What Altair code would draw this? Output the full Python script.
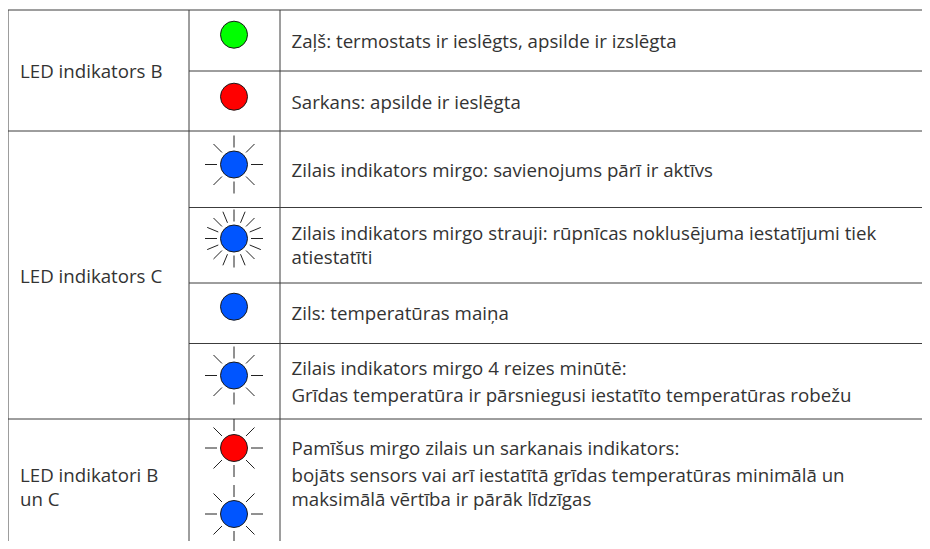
import math
import altair as alt
import pandas as pd

# table geometry (image pixels)
h_y = [10, 71, 131, 207.5, 283, 343.5, 419]
h_x1 = [8, 189, 8, 189, 189, 189, 8]
v_x = [8, 189, 280]
v_y1 = [10, 10, 10]
X_END = 922
Y_END = 541

# left column
group_labels = ["LED indikators B", "LED indikators C", "LED indikatori B", "un C"]
group_base = [78, 283, 482, 506]

# right column
desc_lines = [
    "Zaļš: termostats ir ieslēgts, apsilde ir izslēgta",
    "Sarkans: apsilde ir ieslēgta",
    "Zilais indikators mirgo: savienojums pārī ir aktīvs",
    "Zilais indikators mirgo strauji: rūpnīcas noklusējuma iestatījumi tiek",
    "atiestatīti",
    "Zils: temperatūras maiņa",
    "Zilais indikators mirgo 4 reizes minūtē:",
    "Grīdas temperatūra ir pārsniegusi iestatīto temperatūras robežu",
    "Pamīšus mirgo zilais un sarkanais indikators:",
    "bojāts sensors vai arī iestatītā grīdas temperatūras minimālā un",
    "maksimālā vērtība ir pārāk līdzīgas",
]
desc_base = [48, 109, 177, 240, 264, 320, 375, 402, 455, 482, 506]

# LEDs
led_y = [34.7, 96.7, 164.5, 238.5, 306.7, 375.5, 448, 514]
led_color = ["#00ff00", "#ff0000", "#0055ff", "#0055ff", "#0055ff", "#0055ff", "#ff0000", "#0055ff"]
led_rays = [0, 0, 8, 16, 0, 8, 8, 8]
LED_X = 234
RAY_IN = 17
RAY_OUT = 29

x_scale = alt.Scale(domain=[8, X_END], range=[0, X_END - 8], nice=False, zero=False)
y_scale = alt.Scale(domain=[8, Y_END], range=[0, Y_END - 8], nice=False, zero=False)
X = alt.X("x:Q", scale=x_scale, axis=None)
Y = alt.Y("y:Q", scale=y_scale, axis=None)

LINE = "#3c3c3c"
FONT = "Open Sans"
TEXT = "#333333"
FS = 18.7

h_df = pd.DataFrame({"x": h_x1, "x2": [X_END] * len(h_y), "y": h_y})
v_df = pd.DataFrame({"x": v_x, "y": v_y1, "y2": [Y_END] * len(v_x)})

rays = []
for y, n in zip(led_y, led_rays):
    for i in range(n):
        a = 2 * math.pi * i / n
        rays.append({
            "x": LED_X + RAY_IN * math.cos(a), "x2": LED_X + RAY_OUT * math.cos(a),
            "y": y + RAY_IN * math.sin(a), "y2": y + RAY_OUT * math.sin(a),
        })
ray_df = pd.DataFrame(rays)
led_df = pd.DataFrame({"x": [LED_X] * len(led_y), "y": led_y, "c": led_color})
left_df = pd.DataFrame({"x": [20] * len(group_labels), "y": group_base, "t": group_labels})
right_df = pd.DataFrame({"x": [291.5] * len(desc_lines), "y": desc_base, "t": desc_lines})

h_lines = alt.Chart(h_df).mark_rule(color=LINE, strokeWidth=1).encode(x=X, x2="x2:Q", y=Y)
v_lines = alt.Chart(v_df).mark_rule(color=LINE, strokeWidth=1).encode(x=X, y=Y, y2="y2:Q")
ray_lines = alt.Chart(ray_df).mark_rule(color="#222222", strokeWidth=1).encode(x=X, x2="x2:Q", y=Y, y2="y2:Q")
leds = alt.Chart(led_df).mark_point(filled=True, size=729, opacity=1, stroke="#1a1a1a", strokeWidth=1).encode(
    x=X, y=Y, fill=alt.Fill("c:N", scale=None))
left_text = alt.Chart(left_df).mark_text(align="left", baseline="alphabetic", font=FONT, fontSize=FS, color=TEXT).encode(
    x=X, y=Y, text="t:N")
right_text = alt.Chart(right_df).mark_text(align="left", baseline="alphabetic", font=FONT, fontSize=FS, color=TEXT).encode(
    x=X, y=Y, text="t:N")

chart = (
    alt.layer(h_lines, v_lines, ray_lines, leds, left_text, right_text)
    .properties(width=X_END - 8, height=Y_END - 8, padding=0, background="#ffffff",
                autosize=alt.AutoSizeParams(type="none"))
    .configure_view(stroke=None)
)
chart.save("out.html", embed_options={"renderer": "svg", "actions": False})
